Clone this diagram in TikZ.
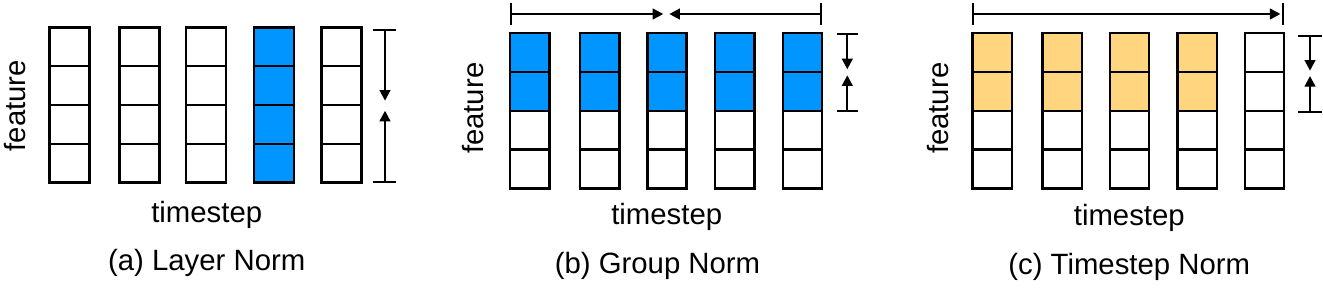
\documentclass[tikz,border=0pt]{standalone}
\usepackage{fontspec}
\setmainfont{Liberation Sans}
\usetikzlibrary{arrows.meta}
\definecolor{cblue}{HTML}{0095FF}
\definecolor{corange}{HTML}{FFD67F}
\begin{document}
\begin{tikzpicture}[x=0.75pt,y=-0.75pt,
  cell/.style={draw, line width=1.8pt, minimum width=30pt, minimum height=29.1pt, inner sep=0pt, outer sep=0pt},
  lbl/.style={font=\fontsize{22}{26}\selectfont, inner sep=0pt},
  dim/.style={line width=1.7pt},
  tip/.style={dim, -{Triangle[length=8pt,width=8pt]}}]
\useasboundingbox (0,0) rectangle (1323,287);

% ---------- (a) Layer Norm ----------
\foreach \i/\x/\f in {1/49.3/white,2/119.3/white,3/186/white,4/254/cblue,5/321.3/white}{
  \foreach \j in {1,...,4}{
    \node[cell, fill=\f] (a\i\j) at ({\x+20},{27.3+38.85*(\j-0.5)}) {};
  }
}
\coordinate (aT) at (385,30);
\coordinate (aB) at (385,182);
\coordinate (aM1) at (385,100.7);
\coordinate (aM2) at (385,110.7);
\coordinate (aTl) at (372.7,30); \coordinate (aTr) at (396,30);
\coordinate (aBl) at (372.7,182); \coordinate (aBr) at (396,182);
\draw[dim] (aTl) -- (aTr);
\draw[dim] (aBl) -- (aBr);
\draw[tip] (aT) -- (aM1);
\draw[tip] (aB) -- (aM2);
\node[lbl, rotate=90] (afeat) at (14.7,105.7) {feature};
\node[lbl] (atime) at (206.7,214.5) {timestep};
\node[lbl] (acap) at (206.7,263) {(a) Layer Norm};

% ---------- (b) Group Norm ----------
\foreach \i/\x in {1/510,2/580,3/647.3,4/715,5/782.7}{
  \foreach \j/\g in {1/cblue,2/cblue,3/white,4/white}{
    \node[cell, fill=\g, minimum width=29.5pt] (b\i\j) at ({\x+19.7},{33.3+38.75*(\j-0.5)}) {};
  }
}
\coordinate (bLt) at (511,2.7); \coordinate (bLb) at (511,25);
\coordinate (bRt) at (820.7,2.7); \coordinate (bRb) at (820.7,25);
\coordinate (bL) at (511,14); \coordinate (bR) at (820.7,14);
\coordinate (bC1) at (663.3,14); \coordinate (bC2) at (669.3,14);
\draw[dim] (bLt) -- (bLb);
\draw[dim] (bRt) -- (bRb);
\draw[tip] (bL) -- (bC1);
\draw[tip] (bR) -- (bC2);
\coordinate (bT) at (847.3,34); \coordinate (bB) at (847.3,110.7);
\coordinate (bM1) at (847.3,69.3); \coordinate (bM2) at (847.3,75.3);
\coordinate (bTl) at (836.7,34); \coordinate (bTr) at (858.3,34);
\coordinate (bBl) at (836.7,110.7); \coordinate (bBr) at (858.3,110.7);
\draw[dim] (bTl) -- (bTr);
\draw[dim] (bBl) -- (bBr);
\draw[tip] (bT) -- (bM1);
\draw[tip] (bB) -- (bM2);
\node[lbl, rotate=90] (bfeat) at (473.3,108.3) {feature};
\node[lbl] (btime) at (666.7,216.7) {timestep};
\node[lbl] (bcap) at (657.5,265.7) {(b) Group Norm};

% ---------- (c) Timestep Norm ----------
\foreach \i/\x/\f in {1/972.7/corange,2/1042.7/corange,3/1110/corange,4/1177.7/corange,5/1245/white}{
  \foreach \j/\g in {1/\f,2/\f,3/white,4/white}{
    \node[cell, fill=\g, minimum width=29.3pt] (c\i\j) at ({\x+19.5},{33.3+38.75*(\j-0.5)}) {};
  }
}
\coordinate (cLt) at (973.3,3); \coordinate (cLb) at (973.3,25);
\coordinate (cRt) at (1282.7,3); \coordinate (cRb) at (1282.7,25);
\coordinate (cL) at (973.3,14); \coordinate (cR) at (1280.5,14);
\draw[dim] (cLt) -- (cLb);
\draw[dim] (cRt) -- (cRb);
\draw[tip] (cL) -- (cR);
\coordinate (cT) at (1310,36); \coordinate (cB) at (1310,111.7);
\coordinate (cM1) at (1310,70.7); \coordinate (cM2) at (1310,76);
\coordinate (cTl) at (1298,36); \coordinate (cTr) at (1321.7,36);
\coordinate (cBl) at (1298,111.7); \coordinate (cBr) at (1321.7,111.7);
\draw[dim] (cTl) -- (cTr);
\draw[dim] (cBl) -- (cBr);
\draw[tip] (cT) -- (cM1);
\draw[tip] (cB) -- (cM2);
\node[lbl, rotate=90] (cfeat) at (938,108.3) {feature};
\node[lbl] (ctime) at (1129.3,218) {timestep};
\node[lbl] (ccap) at (1129.2,267) {(c) Timestep Norm};
\end{tikzpicture}
\end{document}
